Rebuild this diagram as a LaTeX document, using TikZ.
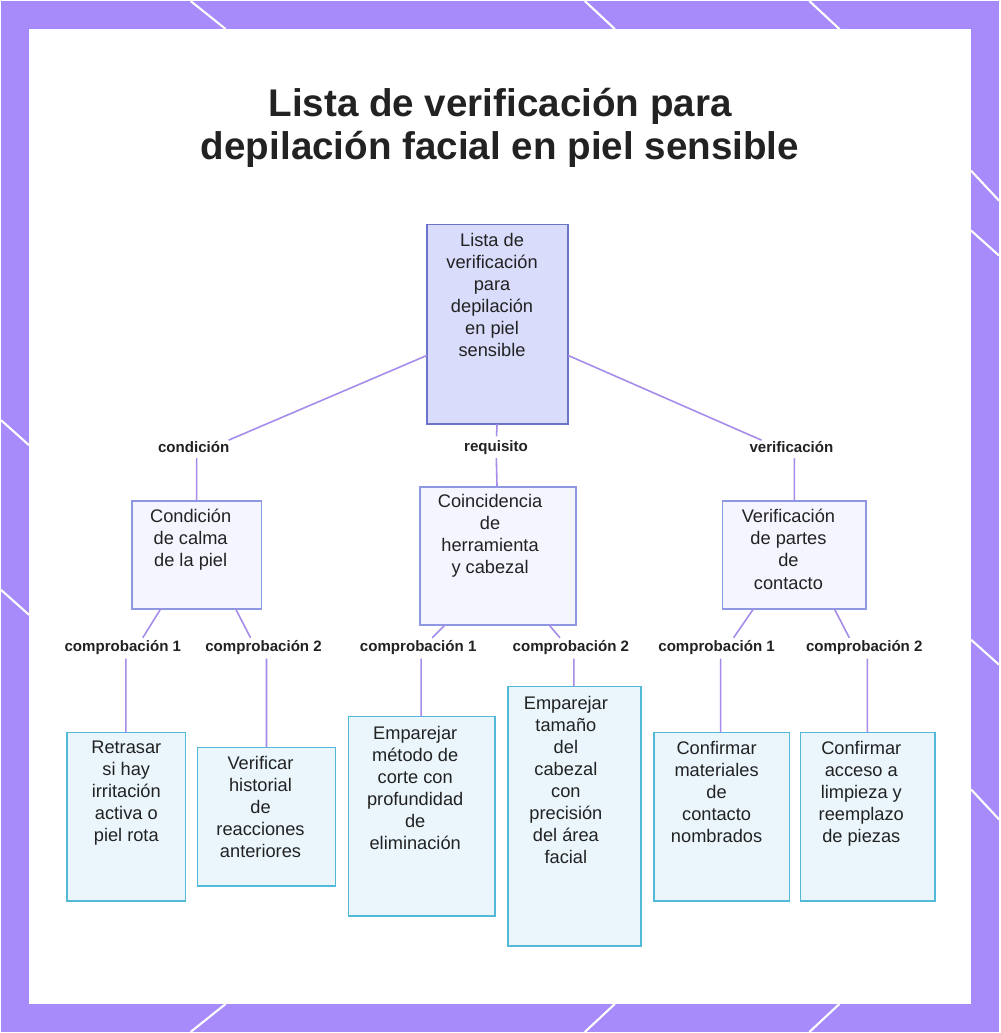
\documentclass[tikz,border=0pt]{standalone}
\usepackage{fontspec}
\setmainfont{Liberation Sans}
\begin{document}
\begin{tikzpicture}[x=0.02cm,y=-0.02cm,
 box/.style={draw,line width=0.9pt,inner sep=0pt},
 root/.style={box,fill=rootf,draw=rootd},
 mid/.style={box,fill=midf,draw=midd},
 leaf/.style={box,fill=leaff,draw=leafd},
 txt/.style={font=\fontsize{10.4pt}{12.6pt}\selectfont,align=center,text=txtc,anchor=north,inner sep=0pt},
 lab/.style={font=\bfseries\fontsize{8.6pt}{9pt}\selectfont,text=txtc,inner sep=2pt},
 con/.style={draw=linec,line width=0.9pt}]
\definecolor{bgp}{HTML}{A78BFA}\definecolor{rootf}{HTML}{D9DCFB}\definecolor{rootd}{HTML}{6B74C8}
\definecolor{midf}{HTML}{F4F5FE}\definecolor{midd}{HTML}{8E98E2}
\definecolor{leaff}{HTML}{EAF6FC}\definecolor{leafd}{HTML}{52B9D9}
\definecolor{txtc}{HTML}{222222}\definecolor{linec}{HTML}{A58CEB}
\fill[bgp] (0,0) rectangle (1000,1033);
\foreach \a/\b/\c/\d in {190/0/225/28, 585/0/615/28, 810/0/840/28, 972/170/1000/200, 972/230/1000/255, 0/420/28/445, 972/640/1000/665, 0/590/28/615, 190/1033/225/1005, 585/1033/615/1005, 810/1033/840/1005, 972/790/1000/820}
  \draw[white,line width=1.2pt] (\a,\b) -- (\c,\d);
\fill[white] (28,28) rectangle (972,1005);
\node[font=\bfseries\fontsize{22pt}{25pt}\selectfont,align=center,text=txtc] (title) at (500,127) {Lista de verificación para\\depilación facial en piel sensible};
\node[root,minimum width=141*0.2mm,minimum height=200*0.2mm] (r) at (497.5,324) {};
\node[txt] at (492,232) {Lista de\\verificación\\para\\depilación\\en piel\\sensible};
\node[mid,minimum width=130*0.2mm,minimum height=108*0.2mm] (a) at (196,555) {};
\node[txt] at (190,509) {Condición\\de calma\\de la piel};
\node[mid,minimum width=156*0.2mm,minimum height=138*0.2mm] (b) at (498,556) {};
\node[txt] at (490,494) {Coincidencia\\de\\herramienta\\y cabezal};
\node[mid,minimum width=144*0.2mm,minimum height=108*0.2mm] (c) at (795,555) {};
\node[txt] at (789,509) {Verificación\\de partes\\de\\contacto};
\node[leaf,minimum width=119*0.2mm,minimum height=169*0.2mm] (l1) at (125.5,817.5) {};
\node[txt] at (125.5,741) {Retrasar\\si hay\\irritación\\activa o\\piel rota};
\node[leaf,minimum width=138*0.2mm,minimum height=139*0.2mm] (l2) at (266,817.5) {};
\node[txt] at (260,756) {Verificar\\historial\\de\\reacciones\\anteriores};
\node[leaf,minimum width=147*0.2mm,minimum height=200*0.2mm] (l3) at (421.5,817) {};
\node[txt] at (415,726) {Emparejar\\método de\\corte con\\profundidad\\de\\eliminación};
\node[leaf,minimum width=133*0.2mm,minimum height=260*0.2mm] (l4) at (574.5,817) {};
\node[txt] at (566,696) {Emparejar\\tamaño\\del\\cabezal\\con\\precisión\\del área\\facial};
\node[leaf,minimum width=136*0.2mm,minimum height=169*0.2mm] (l5) at (722,817.5) {};
\node[txt] at (717,741) {Confirmar\\materiales\\de\\contacto\\nombrados};
\node[leaf,minimum width=135*0.2mm,minimum height=169*0.2mm] (l6) at (868.5,817.5) {};
\node[txt] at (862,741) {Confirmar\\acceso a\\limpieza y\\reemplazo\\de piezas};
\node[lab] (ka) at (193,447) {condición};
\node[lab] (kb) at (496,447) {requisito};
\node[lab] (kc) at (792,447) {verificación};
\node[lab] (k1) at (122,648) {comprobación 1};
\node[lab] (k2) at (263,648) {comprobación 2};
\node[lab] (k3) at (418,648) {comprobación 1};
\node[lab] (k4) at (571,648) {comprobación 2};
\node[lab] (k5) at (717,648) {comprobación 1};
\node[lab] (k6) at (865,648) {comprobación 2};
\coordinate (ra) at (427,355); \coordinate (rc) at (568,355);
\path[con] (ra) -- (228,440) (196,458) -- (196,501);
\path[con] (497,424) -- (kb) -- (497,487);
\path[con] (rc) -- (762,440) (795,458) -- (795,501);
\path[con] (160,609) -- (142,638) (125,659) -- (125,733);
\path[con] (235,609) -- (250,638) (266,659) -- (266,748);
\path[con] (445,625) -- (432,638) (421,659) -- (421,717);
\path[con] (549,625) -- (560,638) (574,659) -- (574,687);
\path[con] (754,609) -- (734,638) (721,659) -- (721,733);
\path[con] (835,609) -- (850,638) (868,659) -- (868,733);
\end{tikzpicture}
\end{document}
